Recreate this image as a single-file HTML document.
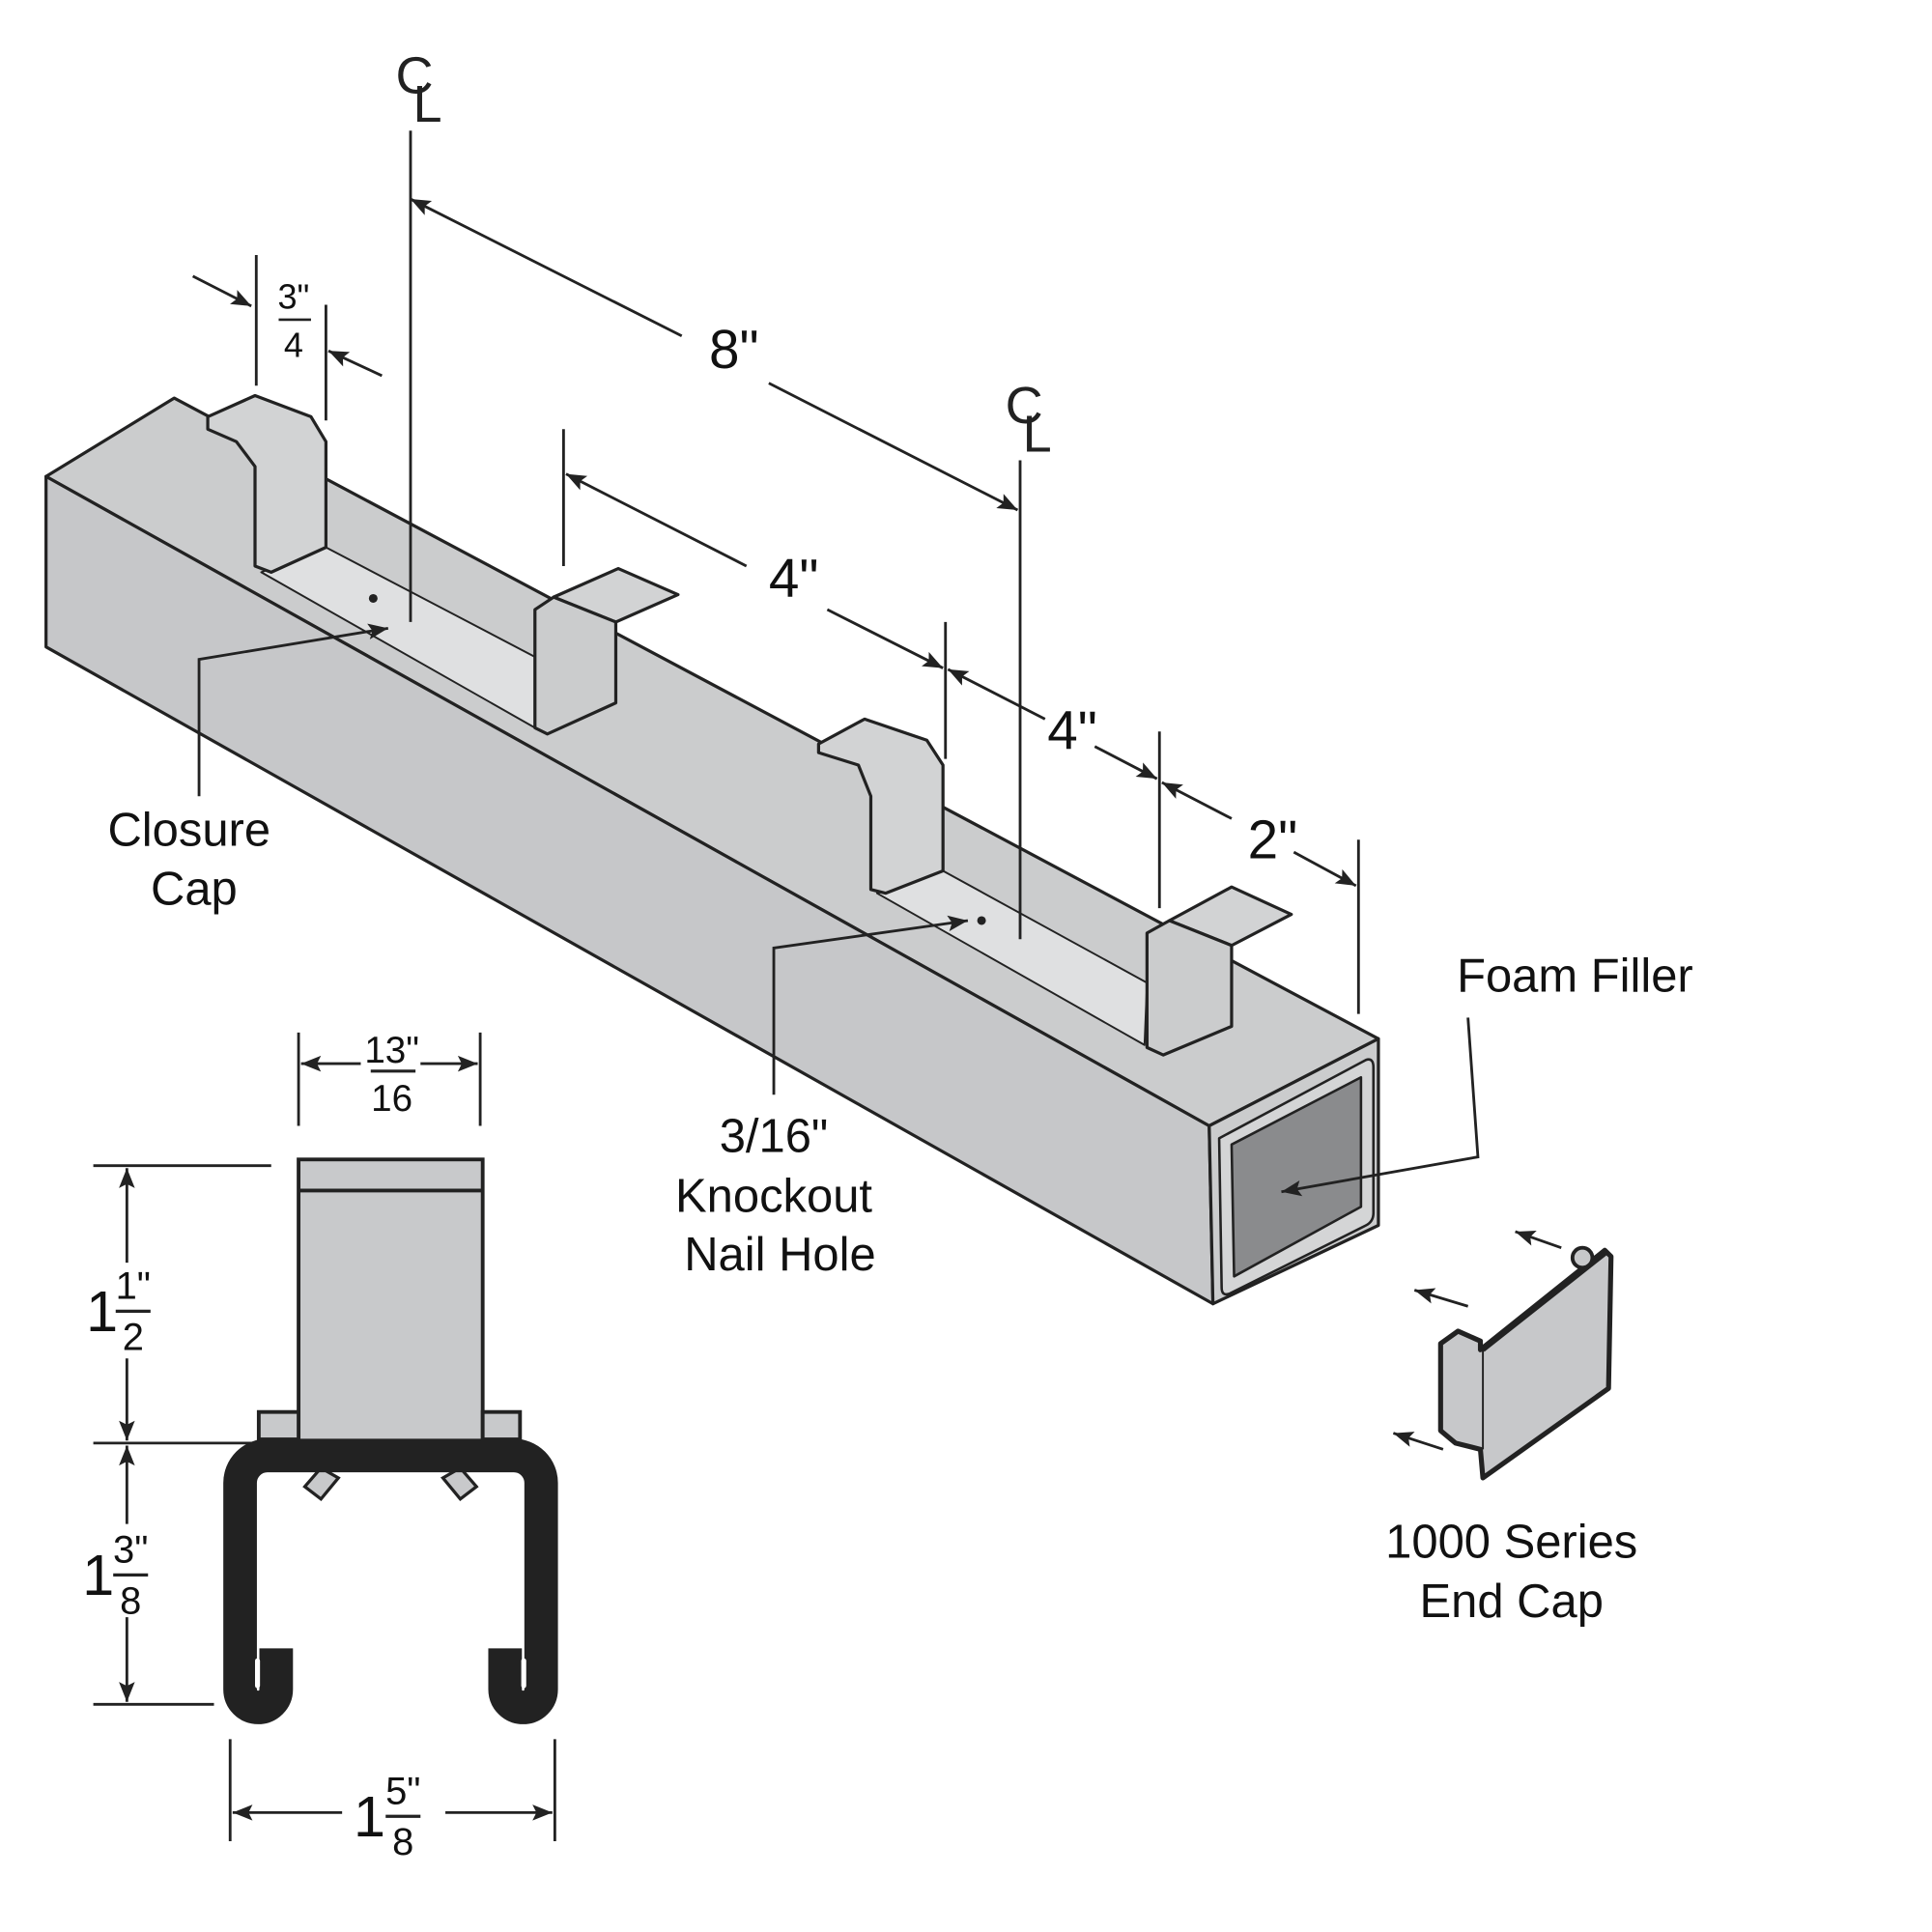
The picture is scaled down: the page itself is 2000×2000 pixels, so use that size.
<!DOCTYPE html>
<html><head><style>html,body{margin:0;padding:0;background:#fff}svg{display:block}</style></head>
<body>
<svg width="2000" height="2000" viewBox="0 0 1553 1553" xmlns="http://www.w3.org/2000/svg" font-family="Liberation Sans, sans-serif">
<defs>
<marker id="b" viewBox="0 0 10 10" refX="10" refY="5" markerWidth="22" markerHeight="16" orient="auto-start-reverse" markerUnits="userSpaceOnUse"><path d="M0,1 L10,5 L0,9 L2,5 Z" fill="#222"/></marker>
</defs>
<g stroke="#222" stroke-width="2.5" stroke-linejoin="round">
<polygon points="37,383 140,320 1108,835 972,905" fill="#cbcccd"/>
<polygon points="37,383 972,905 975,1048 37,520" fill="#c6c7c9"/>
<polygon points="972,905 1108,835 1108,985 975,1048" fill="#cbcccd"/>
<path d="M980,915 L1098,852 Q1104,850 1104,858 L1104,975 Q1104,982 1098,985 L988,1040 Q982,1042 982,1035 Z" fill="#d4d5d6" stroke-width="2"/>
<polygon points="990,920 1094,866 1094,970 992,1026" fill="#8a8b8d" stroke-width="2"/>
<polygon points="210,460 262,440 430,528 430,585" fill="#dfe0e1" stroke-width="1.5"/>
<polygon points="705,718 758,700 922,790 920,840" fill="#dfe0e1" stroke-width="1.5"/>
<polygon points="167,335 205,318 250,335 262,355 262,440 218,460 205,455 205,375 190,355 167,345" fill="#d2d3d4"/>
<polygon points="445,480 497,457 545,478 495,500" fill="#d2d3d4"/>
<polygon points="430,490 445,480 495,500 495,565 440,590 430,585" fill="#cbcccd"/>
<polygon points="658,598 695,578 745,595 758,615 758,700 712,718 700,715 700,640 690,615 658,605" fill="#d2d3d4"/>
<polygon points="940,740 990,713 1038,735 990,760" fill="#d2d3d4"/>
<polygon points="922,750 940,740 990,760 990,825 935,848 922,842" fill="#cbcccd"/>
</g>
<circle cx="300" cy="481" r="3.5" fill="#222"/><circle cx="789" cy="740" r="3.5" fill="#222"/>
<g stroke="#222" stroke-width="2.2" fill="none">
<line x1="330" y1="105" x2="330" y2="500"/><line x1="820" y1="370" x2="820" y2="755"/>
<line x1="330" y1="160" x2="548" y2="270" marker-start="url(#b)"/><line x1="618" y1="308" x2="818" y2="410" marker-end="url(#b)"/>
<line x1="206" y1="205" x2="206" y2="310"/><line x1="262" y1="245" x2="262" y2="338"/>
<line x1="155" y1="222" x2="202" y2="246" marker-end="url(#b)"/><line x1="307" y1="302" x2="264" y2="282" marker-end="url(#b)"/>
<line x1="453" y1="345" x2="453" y2="455"/><line x1="760" y1="500" x2="760" y2="610"/>
<line x1="455" y1="381" x2="600" y2="455" marker-start="url(#b)"/><line x1="665" y1="490" x2="758" y2="537" marker-end="url(#b)"/>
<line x1="762" y1="538" x2="840" y2="578" marker-start="url(#b)"/><line x1="880" y1="600" x2="930" y2="626" marker-end="url(#b)"/>
<line x1="932" y1="588" x2="932" y2="730"/><line x1="1092" y1="675" x2="1092" y2="815"/>
<line x1="934" y1="629" x2="990" y2="658" marker-start="url(#b)"/><line x1="1040" y1="685" x2="1090" y2="712" marker-end="url(#b)"/>
<polyline points="160,640 160,530 312,505" marker-end="url(#b)"/>
<polyline points="622,880 622,762 778,740" marker-end="url(#b)"/>
<polyline points="1180,818 1188,930 1030,958" marker-end="url(#b)"/>
</g>
<g font-size="42" fill="#222"><text x="318" y="75">C</text><text x="332" y="98">L</text><text x="808" y="340">C</text><text x="822" y="363">L</text></g>
<g font-size="44" fill="#111" text-anchor="middle">
<text x="590" y="296">8"</text><text x="638" y="480">4"</text><text x="862" y="602">4"</text><text x="1023" y="690">2"</text>
</g>
<g font-size="28" fill="#111" text-anchor="middle"><text x="236" y="248">3"</text><text x="236" y="287">4</text></g>
<line x1="224" y1="257" x2="250" y2="257" stroke="#222" stroke-width="2"/>
<g font-size="38" fill="#111" text-anchor="middle">
<text x="152" y="680">Closure</text><text x="156" y="727">Cap</text>
<text x="622" y="926">3/16"</text><text x="622" y="974">Knockout</text><text x="627" y="1021">Nail Hole</text>
<text x="1266" y="797">Foam Filler</text>
<text x="1215" y="1252">1000 Series</text><text x="1215" y="1300">End Cap</text>
</g>
<g stroke="#222" stroke-width="4" stroke-linejoin="round">
<polygon points="1158,1080 1172,1070 1190,1078 1190,1085 1290,1005 1295,1010 1293,1116 1192,1188 1190,1165 1170,1160 1158,1150" fill="#c7c8ca"/>
<line x1="1192" y1="1085" x2="1192" y2="1165" stroke-width="1.5"/>
<circle cx="1272" cy="1011" r="8" fill="#c7c8ca" stroke-width="3"/>
<line x1="1192" y1="1085" x2="1292" y2="1006" stroke-width="4"/>
</g>
<g stroke="#222" stroke-width="2.2"><line x1="1255" y1="1003" x2="1218" y2="990" marker-end="url(#b)"/><line x1="1180" y1="1050" x2="1137" y2="1037" marker-end="url(#b)"/><line x1="1160" y1="1165" x2="1120" y2="1152" marker-end="url(#b)"/></g>
<g stroke="#222" stroke-width="3">
<rect x="240" y="932" width="148" height="228" fill="#c8c9cb"/>
<line x1="240" y1="957" x2="388" y2="957"/>
<rect x="208" y="1135" width="32" height="22" fill="#c8c9cb"/>
<rect x="388" y="1135" width="30" height="22" fill="#c8c9cb"/>
<polygon points="245,1195 258,1180 272,1188 258,1205" fill="#c8c9cb" stroke-width="2.5"/>
<polygon points="383,1195 370,1180 356,1188 370,1205" fill="#c8c9cb" stroke-width="2.5"/>
</g>
<path d="M222,1325 L222,1358 A14.5,14.5 0 0 1 193,1358 L193,1192 A22,22 0 0 1 215,1170 L413,1170 A22,22 0 0 1 435,1192 L435,1358 A14.5,14.5 0 0 1 406,1358 L406,1325" fill="none" stroke="#222" stroke-width="27"/>
<g stroke="#fff" stroke-width="4" stroke-linecap="round"><line x1="207" y1="1335" x2="207" y2="1355"/><line x1="421" y1="1335" x2="421" y2="1355"/></g>
<g stroke="#222" stroke-width="2.2">
<line x1="240" y1="830" x2="240" y2="905"/><line x1="386" y1="830" x2="386" y2="905"/>
<line x1="242" y1="855" x2="290" y2="855" marker-start="url(#b)"/><line x1="338" y1="855" x2="384" y2="855" marker-end="url(#b)"/>
<line x1="75" y1="937" x2="218" y2="937"/><line x1="75" y1="1160" x2="208" y2="1160"/><line x1="75" y1="1370" x2="172" y2="1370"/>
<line x1="102" y1="939" x2="102" y2="1015" marker-start="url(#b)"/><line x1="102" y1="1092" x2="102" y2="1158" marker-end="url(#b)"/>
<line x1="102" y1="1162" x2="102" y2="1225" marker-start="url(#b)"/><line x1="102" y1="1300" x2="102" y2="1368" marker-end="url(#b)"/>
<line x1="185" y1="1398" x2="185" y2="1480"/><line x1="446" y1="1398" x2="446" y2="1480"/>
<line x1="187" y1="1457" x2="275" y2="1457" marker-start="url(#b)"/><line x1="358" y1="1457" x2="444" y2="1457" marker-end="url(#b)"/>
</g>
<g fill="#111" text-anchor="middle">
<text x="315" y="854" font-size="30">13"</text><text x="315" y="893" font-size="30">16</text>
<text x="82" y="1070" font-size="46">1</text><text x="107" y="1044" font-size="31">1"</text><text x="107" y="1085" font-size="31">2</text>
<text x="79" y="1282" font-size="46">1</text><text x="105" y="1256" font-size="31">3"</text><text x="105" y="1297" font-size="31">8</text>
<text x="297" y="1476" font-size="46">1</text><text x="324" y="1450" font-size="31">5"</text><text x="324" y="1491" font-size="31">8</text>
</g>
<g stroke="#222" stroke-width="2.5"><line x1="298" y1="861" x2="334" y2="861"/><line x1="93" y1="1054" x2="121" y2="1054"/><line x1="91" y1="1266" x2="119" y2="1266"/><line x1="310" y1="1460" x2="338" y2="1460"/></g>
</svg>
</body></html>
